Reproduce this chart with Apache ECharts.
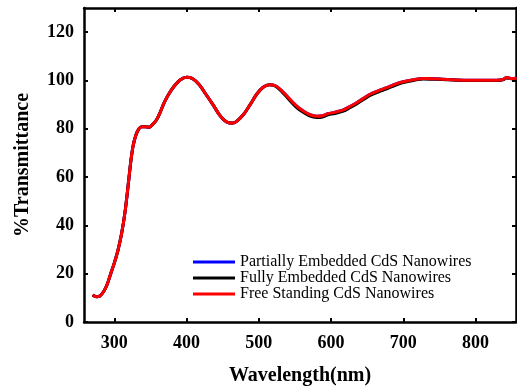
<!DOCTYPE html>
<html>
<head>
<meta charset="utf-8">
<script src="https://cdn.jsdelivr.net/npm/echarts@6/dist/echarts.min.js"></script>
<style>
html, body { margin: 0; padding: 0; background: #fff; }
#chart { width: 517px; height: 392px; }
</style>
</head>
<body>
<div id="chart"></div>
<script>
// wavelength (nm)
var wavelength = [270, 275, 280, 285, 290, 295, 300, 305, 310, 315, 320, 323, 326, 330, 334, 338, 343, 348, 353, 358,
    363, 369, 375, 383, 391, 400, 408, 417, 426, 436, 445, 452, 458, 464, 470, 479, 488, 497, 506, 515,
    523, 532, 542, 552, 562, 571, 580, 588, 596, 605, 617, 626, 636, 645, 654, 666, 677, 689, 700, 714,
    728, 742, 755, 775, 792, 810, 829, 838, 843, 849, 857];

var partial = [11.2, 10.5, 10.8, 12.5, 15.5, 20, 24.5, 29.7, 36.5, 46, 59, 67, 73, 77.5, 80, 80.8, 80.8, 80.6, 81.8, 83.5,
    86.5, 90.8, 94.2, 97.7, 100.2, 101.3, 100.8, 98.4, 94.6, 90.2, 86, 83.6, 82.5, 82.4, 83.3, 86, 90, 94.3, 97.2, 98.2,
    97.8, 95.7, 92.5, 89.5, 87.3, 85.8, 85.2, 85.4, 86.3, 86.8, 87.8, 89.2, 90.9, 92.6, 94.3, 95.8, 97, 98.5, 99.5, 100.3,
    100.8, 100.7, 100.5, 100.2, 100.1, 100.1, 100.1, 100.4, 101.2, 100.8, 100.9];

var fully = [11.2, 10.5, 10.8, 12.5, 15.5, 20, 24.5, 29.7, 36.5, 46, 59, 67, 73, 77.5, 80, 80.8, 80.8, 80.6, 81.8, 83.5,
    86.5, 90.8, 94.2, 97.7, 100.2, 101.3, 100.8, 98.4, 94.6, 90.2, 86, 83.6, 82.5, 82.4, 83.3, 86, 90, 94.3, 97.2, 98.2,
    97.6, 95.3, 92, 88.9, 86.7, 85.2, 84.7, 84.9, 85.8, 86.3, 87.3, 88.7, 90.4, 92.1, 93.8, 95.3, 96.5, 98, 99.1, 100,
    100.6, 100.5, 100.4, 100.1, 100, 100, 100, 100.3, 101, 100.7, 100.8];

var free = [11.2, 10.5, 10.8, 12.5, 15.5, 20, 24.5, 29.7, 36.5, 46, 59, 67, 73, 77.5, 80, 80.8, 80.8, 80.6, 81.8, 83.5,
    86.5, 90.8, 94.2, 97.7, 100.2, 101.3, 100.8, 98.4, 94.6, 90.2, 86, 83.6, 82.5, 82.4, 83.3, 86, 90, 94.3, 97.2, 98.2,
    97.8, 95.7, 92.5, 89.5, 87.3, 85.8, 85.2, 85.4, 86.3, 86.8, 87.8, 89.2, 90.9, 92.6, 94.3, 95.8, 97, 98.5, 99.5, 100.3,
    100.8, 100.7, 100.5, 100.2, 100.1, 100.1, 100.1, 100.4, 101.2, 100.8, 100.9];

var xTicks = [300, 400, 500, 600, 700, 800];
var yTicks = [0, 20, 40, 60, 80, 100, 120];
var seriesNames = ['Partially Embedded CdS Nanowires', 'Fully Embedded CdS Nanowires', 'Free Standing CdS Nanowires'];
var seriesColors = ['#0000ff', '#000000', '#ff0000'];

function pairs(vals) {
    return wavelength.map(function (w, i) { return [w, vals[i]]; });
}

var font = 'Liberation Serif';
var dom = document.getElementById('chart');
var myChart = echarts.init(dom);

var axisLine = { show: true, onZero: false, lineStyle: { color: '#000', width: 2.5 } };

option = {
    animation: false,
    backgroundColor: '#fff',
    grid: { left: 84, right: 1, top: 8, bottom: 70 },
    legend: {
        orient: 'vertical',
        left: 188,
        top: 249,
        itemGap: 0,
        itemWidth: 42,
        itemHeight: 3,
        icon: 'rect',
        data: seriesNames,
        textStyle: { fontFamily: font, fontSize: 16, color: '#000', lineHeight: 15 }
    },
    xAxis: [
        {
            type: 'value',
            min: 258,
            max: 856,
            position: 'bottom',
            name: 'Wavelength(nm)',
            nameLocation: 'middle',
            nameGap: 44,
            nameTextStyle: { fontFamily: font, fontSize: 20, fontWeight: 'bold', color: '#000' },
            axisLine: axisLine,
            axisTick: { inside: true, length: 4, lineStyle: { width: 2, color: '#000' }, customValues: xTicks },
            axisLabel: { fontFamily: font, fontSize: 18, fontWeight: 'bold', color: '#000', margin: 12, customValues: xTicks },
            splitLine: { show: false }
        },
        {
            type: 'value',
            min: 258,
            max: 856,
            position: 'top',
            axisLine: axisLine,
            axisTick: { inside: true, length: 4, lineStyle: { width: 2, color: '#000' }, customValues: xTicks },
            axisLabel: { show: false },
            splitLine: { show: false }
        }
    ],
    yAxis: [
        {
            type: 'value',
            min: 0,
            max: 130,
            position: 'left',
            name: '%Transmittance',
            nameLocation: 'middle',
            nameGap: 51,
            nameTextStyle: { fontFamily: font, fontSize: 20, fontWeight: 'bold', color: '#000' },
            axisLine: axisLine,
            axisTick: { inside: true, length: 4, lineStyle: { width: 2, color: '#000' }, customValues: yTicks },
            axisLabel: { fontFamily: font, fontSize: 18, fontWeight: 'bold', color: '#000', margin: 10, customValues: yTicks },
            splitLine: { show: false }
        },
        {
            type: 'value',
            min: 0,
            max: 130,
            position: 'right',
            axisLine: axisLine,
            axisTick: { inside: true, length: 4, lineStyle: { width: 2, color: '#000' }, customValues: yTicks },
            axisLabel: { show: false },
            splitLine: { show: false }
        }
    ],
    series: [
        {
            name: seriesNames[0],
            type: 'line',
            color: seriesColors[0],
            showSymbol: false,
            smooth: 0.3,
            lineStyle: { width: 3 },
            data: pairs(partial)
        },
        {
            name: seriesNames[1],
            type: 'line',
            color: seriesColors[1],
            showSymbol: false,
            smooth: 0.3,
            lineStyle: { width: 3 },
            data: pairs(fully)
        },
        {
            name: seriesNames[2],
            type: 'line',
            color: seriesColors[2],
            showSymbol: false,
            smooth: 0.3,
            lineStyle: { width: 3 },
            data: pairs(free)
        }
    ]
};

if (option && typeof option === "object") {
    myChart.setOption(option, true);
}
</script>
</body>
</html>
